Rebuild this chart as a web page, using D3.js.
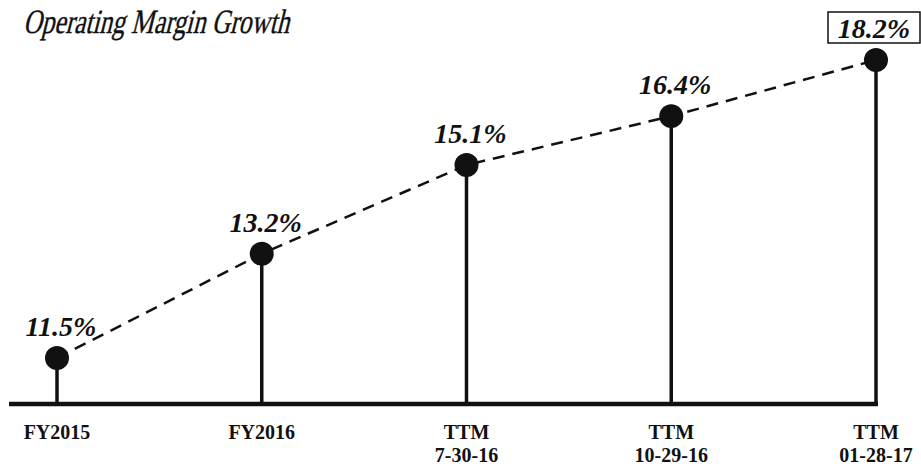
<!DOCTYPE html>
<html>
<head>
<meta charset="utf-8">
<script src="https://cdn.jsdelivr.net/npm/d3@7"></script>
<style>
  body { margin: 0; background: #fff; }
  svg { display: block; }
</style>
</head>
<body>
<div id="chart"></div>
<script>
// data
const periods = ["FY2015", "FY2016", "TTM 7-30-16", "TTM 10-29-16", "TTM 01-28-17"];
const tickLines = [["FY2015"], ["FY2016"], ["TTM", "7-30-16"], ["TTM", "10-29-16"], ["TTM", "01-28-17"]];
const margins = [11.5, 13.2, 15.1, 16.4, 18.2];

const width = 921, height = 468;
const baseY = 404;

const svg = d3.select("#chart").append("svg")
  .attr("width", width)
  .attr("height", height);

const x = d3.scalePoint()
  .domain(periods)
  .range([57, 876]);

// the artwork is not linear, a reciprocal scale fits it best
const y = d3.scalePow()
  .exponent(-1)
  .domain([11.5, 18.2])
  .range([358, 60]);

const pts = periods.map((p, i) => ({ period: p, value: margins[i], lines: tickLines[i] }));

// title - no serif italic face here, so slant the upright one
const title = svg.append("text")
  .attr("x", 0)
  .attr("y", 0)
  .attr("transform", "translate(23,33) skewX(-14)")
  .style("font-family", "'Liberation Serif', serif")
  .style("font-size", "34px")
  .style("stroke", "#111")
  .style("stroke-width", 0.4)
  .style("fill", "#111")
  .text("Operating Margin Growth");

if (title.node().getComputedTextLength() > 266) {
  title.attr("textLength", 266).attr("lengthAdjust", "spacingAndGlyphs");
}

// stems
svg.selectAll("line.stem")
  .data(pts)
  .enter()
  .append("line")
  .attr("class", "stem")
  .attr("x1", d => x(d.period))
  .attr("x2", d => x(d.period))
  .attr("y1", d => y(d.value))
  .attr("y2", baseY)
  .style("stroke", "#111")
  .style("stroke-width", 3.5);

// baseline
svg.append("line")
  .attr("x1", 9)
  .attr("x2", x(periods[periods.length - 1]) + 2)
  .attr("y1", baseY)
  .attr("y2", baseY)
  .style("stroke", "#111")
  .style("stroke-width", 4.5);

// dashed trend line
const line = d3.line()
  .x(d => x(d.period))
  .y(d => y(d.value));

svg.append("path")
  .datum(pts)
  .attr("d", line)
  .style("fill", "none")
  .style("stroke", "#111")
  .style("stroke-width", 2.5)
  .style("stroke-dasharray", "12,8");

// dots
svg.selectAll("circle.dot")
  .data(pts)
  .enter()
  .append("circle")
  .attr("class", "dot")
  .attr("cx", d => x(d.period))
  .attr("cy", d => y(d.value))
  .attr("r", 12)
  .style("fill", "#111");

// value labels
svg.selectAll("text.valueLabel")
  .data(pts)
  .enter()
  .append("text")
  .attr("class", "valueLabel")
  .attr("x", (d, i) => x(d.period) + (i == pts.length - 1 ? -2 : 4))
  .attr("y", d => y(d.value) - 22)
  .style("text-anchor", "middle")
  .style("font", "italic bold 28px 'Liberation Serif', serif")
  .style("fill", "#111")
  .text(d => d3.format(".1f")(d.value) + "%");

// box around the last value
const last = pts[pts.length - 1];
svg.append("rect")
  .attr("x", x(last.period) - 48)
  .attr("y", y(last.value) - 48)
  .attr("width", 92)
  .attr("height", 31)
  .style("fill", "none")
  .style("stroke", "#111")
  .style("stroke-width", 1.5);

// category labels
const catLabels = svg.selectAll("text.catLabel")
  .data(pts)
  .enter()
  .append("text")
  .attr("class", "catLabel")
  .attr("x", d => x(d.period))
  .attr("y", 439)
  .style("text-anchor", "middle")
  .style("font", "bold 20px 'Liberation Serif', serif")
  .style("fill", "#111");

catLabels.selectAll("tspan")
  .data(d => d.lines.map(l => ({ l, cx: x(d.period) })))
  .enter()
  .append("tspan")
  .attr("x", d => d.cx)
  .attr("dy", (d, i) => i == 0 ? 0 : 23)
  .text(d => d.l);
</script>
</body>
</html>
